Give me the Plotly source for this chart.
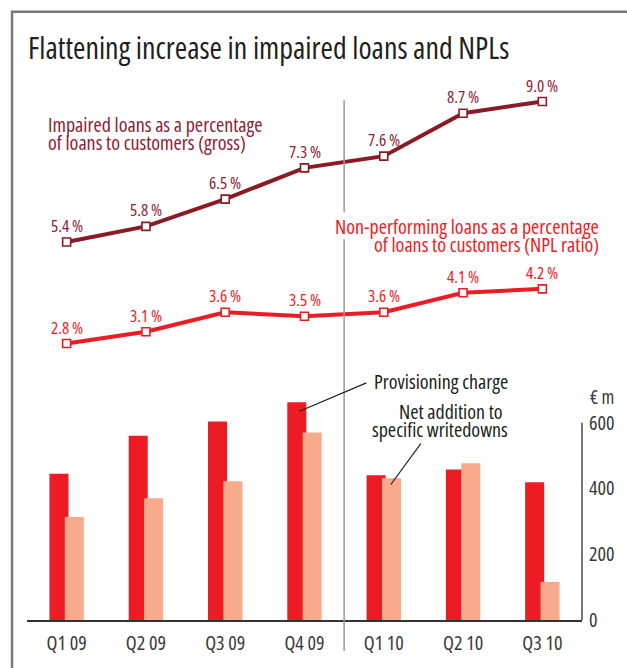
import plotly.graph_objects as go

# Quarterly data
quarters = ["Q1 09", "Q2 09", "Q3 09", "Q4 09", "Q1 10", "Q2 10", "Q3 10"]
provisioning_charge = [445, 560, 604, 662, 440, 458, 419]          # € m
net_addition_writedowns = [313, 370, 422, 570, 431, 477, 116]      # € m
impaired_ratio = [5.4, 5.8, 6.5, 7.3, 7.6, 8.7, 9.0]               # %
npl_ratio = [2.8, 3.1, 3.6, 3.5, 3.6, 4.1, 4.2]                    # %
bar_ticks = [0, 200, 400, 600]

FONT = "Open Sans, Roboto, sans-serif"
RED = "#ED1C24"
SALMON = "#F8AA8C"
DARK_RED = "#8A1B25"
DARK_RED_TXT = "#8E2232"
INK = "#231F20"
GREY_TXT = "#3A3A3A"

W, H = 627, 668
L, R, T, B = 27, 44, 60, 46
PW, PH = W - L - R, H - T - B


def cond(text):
    """Wrap a label so it is set in the condensed face of the font."""
    return f'<span style="font-stretch:75%">{text}</span>'


def px(xp):
    """Pixel x -> paper x."""
    return (xp - L) / PW


def py(yp):
    """Pixel y -> paper y."""
    return (H - B - yp) / PH


xs = list(range(len(quarters)))

fig = go.Figure()

fig.add_trace(go.Bar(
    x=xs, y=provisioning_charge, width=0.24, offset=-0.217,
    marker=dict(color=RED, line=dict(width=0)), name="Provisioning charge",
    yaxis="y",
))
fig.add_trace(go.Bar(
    x=xs, y=net_addition_writedowns, width=0.24, offset=-0.023,
    marker=dict(color=SALMON, line=dict(width=0)),
    name="Net addition to specific writedowns", yaxis="y",
))

for vals, col in ((impaired_ratio, DARK_RED), (npl_ratio, RED)):
    fig.add_trace(go.Scatter(
        x=xs, y=vals, yaxis="y2", mode="lines+markers",
        line=dict(color=col, width=4),
        marker=dict(symbol="square", size=8, color="white",
                    line=dict(color=col, width=1.6)),
        cliponaxis=False,
    ))

annotations = []

# value labels above the line markers
for vals, col in ((impaired_ratio, DARK_RED_TXT), (npl_ratio, RED)):
    for x, v in zip(xs, vals):
        annotations.append(dict(
            x=x, y=v, xref="x", yref="y2", text=cond(f"{v:.1f}\u2009%"),
            showarrow=False, yshift=16.5, yanchor="middle", xanchor="center",
            font=dict(family=FONT, size=17, color=col),
        ))

def label(text, xp, yp, anchor, color, size=20):
    annotations.append(dict(
        x=px(xp), y=py(yp), xref="paper", yref="paper",
        text=cond(text),
        showarrow=False, xanchor=anchor, yanchor="middle",
        font=dict(family=FONT, size=size, color=color),
    ))

label("Flattening increase in impaired loans and NPLs", 26, 47.5, "left", INK, 30)
label("Impaired loans as a percentage", 46.5, 125, "left", DARK_RED_TXT)
label("of loans to customers (gross)", 46.5, 143, "left", DARK_RED_TXT)
label("Non-performing loans as a percentage", 602, 227, "right", RED)
label("of loans to customers (NPL ratio)", 602, 245, "right", RED)
label("Provisioning charge", 372.5, 383, "left", INK)
label("Net addition to", 506, 413, "right", INK)
label("specific writedowns", 511, 431, "right", INK)
label("€ m", 589.5, 398, "left", GREY_TXT, 19)

shapes = [
    # outer frame (open to the right and bottom)
    dict(type="path", xref="paper", yref="paper",
         path=f"M {px(12)},{py(700)} L {px(12)},{py(11.5)} L {px(660)},{py(11.5)}",
         line=dict(color="#7A7A7A", width=2.5)),
    # separator between 2009 and 2010
    dict(type="line", xref="x", yref="paper", x0=3.5, x1=3.5,
         y0=py(100.5), y1=py(213), line=dict(color="#9A9A9A", width=1.5)),
    dict(type="line", xref="x", yref="paper", x0=3.5, x1=3.5,
         y0=py(240), y1=py(653), line=dict(color="#9A9A9A", width=1.5)),
    # right value axis
    dict(type="line", xref="paper", yref="y", x0=1, x1=1,
         y0=0, y1=600, line=dict(color="#555555", width=1.6)),
    # leader lines
    dict(type="line", xref="paper", yref="paper", x0=px(367), y0=py(384),
         x1=px(300), y1=py(412.5), line=dict(color=INK, width=1.2)),
    dict(type="line", xref="paper", yref="paper", x0=px(421.5), y0=py(445),
         x1=px(391.5), y1=py(486), line=dict(color=INK, width=1.2)),
]

fig.update_layout(
    width=W, height=H, autosize=False,
    margin=dict(l=L, r=R, t=T, b=B, pad=0),
    paper_bgcolor="white", plot_bgcolor="white",
    showlegend=False, barmode="overlay",
    font=dict(family=FONT, color=GREY_TXT),
    xaxis=dict(
        range=[-0.5, 6.5], tickvals=xs,
        ticktext=[cond(q) for q in quarters],
        showgrid=False, zeroline=False, ticks="",
        showline=True, linecolor="#333333", linewidth=2,
        tickfont=dict(family=FONT, size=20, color=GREY_TXT),
        ticklabelstandoff=4,
    ),
    yaxis=dict(
        range=[0, PH / 198 * 600], side="right",
        tickvals=bar_ticks, ticktext=[cond(str(t)) for t in bar_ticks],
        showgrid=False, zeroline=False, showline=False, ticks="",
        tickfont=dict(family=FONT, size=20, color=GREY_TXT),
        ticklabelstandoff=6,
    ),
    yaxis2=dict(
        overlaying="y", visible=False,
        range=[-(H - B - 454.2) / 39.17, (454.2 - T) / 39.17],
    ),
    annotations=annotations,
    shapes=shapes,
)

fig.write_html("out.html")
